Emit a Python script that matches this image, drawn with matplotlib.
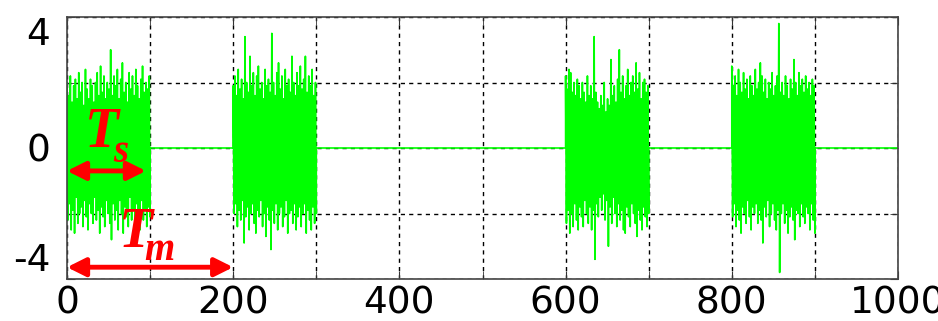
import matplotlib
matplotlib.use("Agg")
import matplotlib.pyplot as plt
import numpy as np

plt.rcParams["axes.unicode_minus"] = False

# burst windows (start, end) on the time axis
bursts = [(0, 100), (200, 300), (600, 700), (800, 900)]

up1 = [2.0, 1.6, 2.2, 1.4, 1.9, 2.1, 1.5, 2.3, 1.7, 2.0,
       1.3, 2.4, 1.8, 1.5, 2.1, 1.9, 1.4, 2.0, 2.3, 1.6,
       2.5, 1.7, 2.2, 1.5, 2.0, 1.8, 3.0, 1.6, 2.2, 1.9,
       2.4, 1.5, 2.1, 2.6, 1.7, 2.0, 1.4, 2.3, 1.8, 2.2,
       1.6, 2.4, 1.9, 1.5, 2.1, 2.5, 1.7, 2.0, 1.8, 2.2]
dn1 = [-2.2, -1.7, -2.5, -1.9, -2.6, -1.5, -2.3, -2.0, -1.8, -2.4,
       -1.6, -2.1, -2.5, -1.7, -2.0, -2.3, -1.5, -2.2, -1.9, -2.6,
       -1.8, -2.1, -2.4, -1.6, -2.0, -2.3, -2.8, -1.7, -2.2, -1.9,
       -2.5, -1.6, -2.0, -2.6, -1.8, -2.1, -2.4, -1.5, -2.2, -1.9,
       -2.3, -1.7, -2.0, -2.5, -1.6, -2.2, -1.9, -2.4, -1.8, -2.1]

up2 = [1.9, 2.2, 1.6, 2.4, 1.8, 2.1, 1.5, 3.4, 2.0, 1.7,
       2.8, 1.9, 2.3, 1.6, 2.2, 2.5, 1.8, 2.0, 1.5, 2.4,
       1.9, 2.1, 1.7, 3.5, 2.0, 1.6, 2.3, 2.6, 1.8, 2.2,
       1.5, 2.4, 1.9, 2.1, 1.7, 2.8, 2.0, 1.6, 2.3, 1.9,
       2.5, 1.8, 2.1, 2.8, 1.7, 2.2, 1.9, 2.4, 1.6, 2.0]
dn2 = [-2.0, -1.7, -2.4, -1.9, -2.2, -1.6, -2.9, -2.1, -1.8, -2.5,
       -2.0, -1.7, -2.3, -2.6, -1.9, -2.1, -1.6, -2.4, -2.0, -2.7,
       -1.8, -2.2, -3.1, -1.9, -2.3, -1.7, -2.5, -2.0, -1.8, -2.4,
       -2.1, -1.6, -2.6, -2.0, -1.9, -2.3, -1.7, -2.5, -2.1, -1.8,
       -2.4, -2.0, -1.7, -2.6, -1.9, -2.2, -2.5, -1.8, -2.3, -2.0]

up3 = [2.2, 1.8, 2.4, 2.3, 1.7, 2.0, 1.6, 2.1, 1.9, 1.5,
       2.0, 1.7, 1.4, 2.2, 1.6, 1.9, 1.5, 3.4, 1.7, 1.4,
       1.2, 1.6, 1.3, 2.0, 1.1, 1.5, 1.3, 2.7, 1.6, 1.9,
       1.4, 2.1, 3.0, 1.7, 2.2, 1.5, 1.9, 2.4, 1.6, 2.0,
       2.2, 1.7, 2.6, 1.8, 2.3, 1.5, 2.0, 2.1, 1.7, 1.9]
dn3 = [-2.3, -1.9, -2.6, -2.0, -2.4, -1.7, -2.2, -2.5, -1.8, -2.1,
       -2.4, -1.6, -2.0, -2.3, -1.8, -2.5, -1.9, -3.4, -1.7, -2.1,
       -1.5, -1.9, -1.4, -2.2, -1.6, -3.0, -1.8, -2.3, -1.5, -2.0,
       -2.4, -1.7, -2.2, -1.9, -2.5, -2.6, -1.8, -2.1, -2.4, -1.7,
       -2.0, -2.3, -2.7, -1.9, -2.2, -2.5, -1.8, -2.1, -2.4, -2.0]

up4 = [2.5, 1.9, 2.2, 1.6, 2.4, 2.0, 1.7, 2.3, 1.8, 2.1,
       1.5, 2.2, 1.9, 1.6, 2.4, 1.8, 2.0, 2.6, 2.2, 1.7,
       2.1, 1.5, 2.0, 1.8, 2.3, 1.6, 1.9, 2.2, 3.8, 1.7,
       2.0, 1.6, 2.2, 1.9, 1.5, 2.1, 1.8, 2.7, 2.0, 1.6,
       2.3, 1.9, 2.1, 1.7, 2.2, 1.8, 2.0, 1.6, 2.1, 1.9]
dn4 = [-2.1, -1.7, -2.4, -1.9, -2.2, -2.6, -1.8, -2.0, -2.3, -1.6,
       -2.1, -2.5, -1.8, -2.0, -1.7, -2.3, -1.9, -2.2, -2.9, -1.8,
       -2.1, -1.6, -2.4, -2.0, -1.7, -2.2, -2.5, -1.9, -3.8, -2.0,
       -1.7, -2.3, -1.9, -2.6, -2.1, -1.8, -2.2, -2.8, -1.9, -2.0,
       -2.4, -1.7, -2.1, -2.3, -1.8, -2.0, -2.5, -1.7, -2.2, -2.6]

ups = [up1, up2, up3, up4]
dns = [dn1, dn2, dn3, dn4]

x_ticks = [0, 200, 400, 600, 800, 1000]
y_ticks = [-4, 0, 4]

# build one trace: zero between bursts, alternating excursions inside
xs, ys = [], []
for (s, e), u, d in zip(bursts, ups, dns):
    vals = np.column_stack([u, d]).ravel()
    xs += [s] + list(np.linspace(s, e, len(vals))) + [e]
    ys += [0] + list(vals) + [0]
xs.append(1000)
ys.append(0)

fig = plt.figure(figsize=(9.38, 3.21), dpi=100)
ax = fig.add_axes([67 / 938, 42 / 321, 831 / 938, 262 / 321])

ax.plot(xs, ys, color="#00ff00", lw=1.2, zorder=2)

ax.set_xlim(0, 1000)
ax.set_ylim(-4, 4)
ax.set_xticks(x_ticks)
ax.set_xticks(np.arange(100, 1000, 200), minor=True)
ax.set_yticks(y_ticks)
ax.set_yticks([-2, 2], minor=True)
ax.grid(True, which="both", color="black", ls=(0, (3, 3)), lw=1.0)
ax.tick_params(which="both", direction="in", length=6, top=True, right=True,
               color="#333333", labelsize=27)
ax.tick_params(axis="x", pad=5)
ax.tick_params(axis="y", pad=12)
for sp in ax.spines.values():
    sp.set_color("#444444")
    sp.set_linewidth(1.2)

labs = ax.get_yticklabels()
labs[0].set_va("bottom")
labs[-1].set_va("top")

# arrows and labels
red = "#ff0000"
for x0, x1, yy in [(0, 95, -0.70), (0, 200, -3.64)]:
    ax.annotate("", xy=(x0, yy), xytext=(x1, yy),
                arrowprops=dict(arrowstyle="<|-|>,head_length=1.0,head_width=0.5",
                                lw=3.5, color=red, mutation_scale=11,
                                shrinkA=0, shrinkB=0), zorder=5)

tkw = dict(color=red, fontfamily="Liberation Serif", fontweight="bold",
           fontstyle="italic", zorder=6)
ax.text(22, 0.03, "T", fontsize=40, va="baseline", ha="left", **tkw)
ax.text(56, -0.42, "s", fontsize=28, va="baseline", ha="left", **tkw)
ax.text(62, -3.03, "T", fontsize=40, va="baseline", ha="left", **tkw)
ax.text(93, -3.42, "m", fontsize=28, va="baseline", ha="left", **tkw)

fig.savefig("out.png", dpi=100)
